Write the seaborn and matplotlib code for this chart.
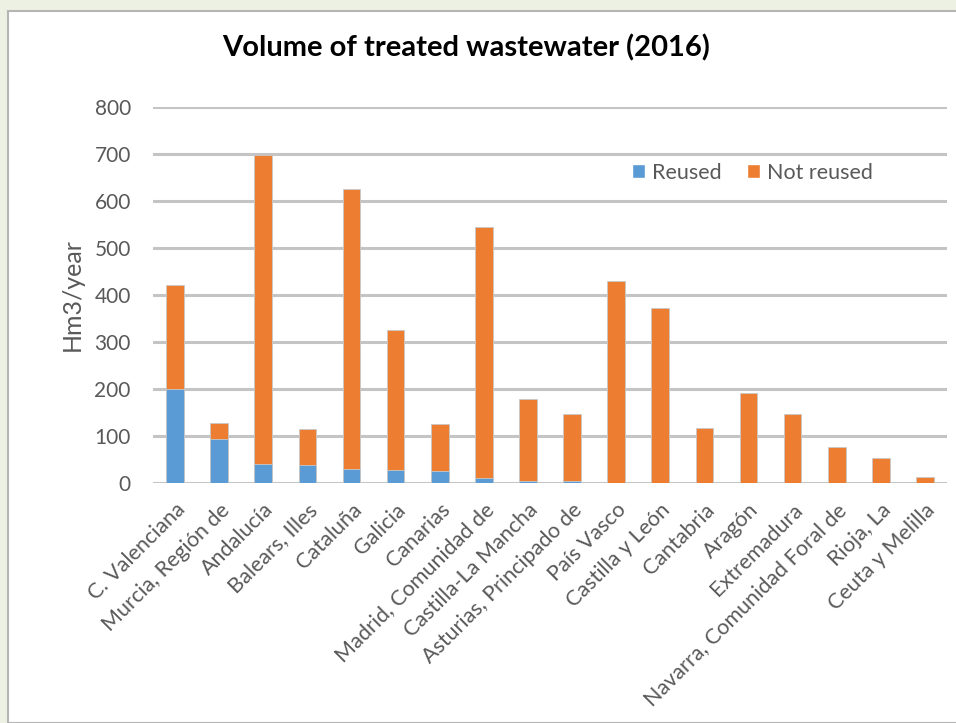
import numpy as np
import pandas as pd
import seaborn as sns
import matplotlib.pyplot as plt
from matplotlib.patches import Rectangle, Patch

#%% data
regions = ['C. Valenciana', 'Murcia, Región de', 'Andalucía', 'Balears, Illes',
           'Cataluña', 'Galicia', 'Canarias', 'Madrid, Comunidad de',
           'Castilla-La Mancha', 'Asturias, Principado de', 'País Vasco',
           'Castilla y León', 'Cantabria', 'Aragón', 'Extremadura',
           'Navarra, Comunidad Foral de', 'Rioja, La', 'Ceuta y Melilla']
reused = [200, 94, 40, 38, 30, 28, 25, 11, 5, 4, 0, 0, 0, 0, 0, 0, 0, 0]
not_reused = [221, 34, 658, 77, 596, 298, 101, 534, 174, 143, 430, 373, 117, 191, 147, 77, 53, 13]

df = pd.DataFrame({'region': regions, 'reused': reused, 'not_reused': not_reused})
df['total'] = df['reused'] + df['not_reused']

blue = '#5B9BD5'
orange = '#ED7D31'
grey_txt = '#595959'

#%% figure
sns.set_style('white')
plt.rcParams['font.family'] = ['Lato', 'DejaVu Sans']

fig = plt.figure(figsize=(9.56, 7.23), dpi=100)
fig.patch.set_facecolor('#edf1e4')
panel = Rectangle((8 / 956, 0), 1.0, 1 - 11 / 723, transform=fig.transFigure,
                  facecolor='white', edgecolor='#b5b5b5', linewidth=1.5, zorder=-10)
fig.add_artist(panel)

ax = fig.add_axes([153 / 956, 1 - 483 / 723, (947 - 153) / 956, (483 - 107) / 723])
ax.set_facecolor('white')

sns.barplot(data=df, x='region', y='total', color=orange, width=0.4, ax=ax,
            edgecolor='#c8c8c8', linewidth=0.6, saturation=1, zorder=3)
sns.barplot(data=df, x='region', y='reused', color=blue, width=0.4, ax=ax,
            edgecolor='#c8c8c8', linewidth=0.6, saturation=1, zorder=4)

ax.set_ylim(0, 800)
ax.set_xlim(-0.5, len(regions) - 0.5)
ax.set_yticks(np.arange(0, 801, 100))
ax.yaxis.grid(True, color='#c4c4c4', linewidth=2.2, zorder=0)
ax.set_axisbelow(True)
for s in ax.spines.values():
    s.set_visible(False)

ax.tick_params(axis='y', length=0, pad=16, labelsize=15, labelcolor=grey_txt)
ax.tick_params(axis='x', length=0, pad=12, labelsize=15.5, labelcolor=grey_txt)
ax.set_xticks(range(len(regions)))
ax.set_xticklabels(regions, rotation=45, ha='right', rotation_mode='anchor')

ax.set_xlabel('')
ax.set_ylabel('Hm3/year', fontsize=18, color=grey_txt, labelpad=8)

handles = [Patch(facecolor=blue, label='Reused'), Patch(facecolor=orange, label='Not reused')]
leg = ax.legend(handles=handles, loc='center', bbox_to_anchor=(0.755, 0.825), ncol=2,
                frameon=False, fontsize=15.5, handlelength=0.6, handleheight=0.6,
                handletextpad=0.3, columnspacing=1.2)
for t in leg.get_texts():
    t.set_color(grey_txt)

fig.text(466 / 956, 1 - 48 / 723, 'Volume of treated wastewater (2016)',
         ha='center', va='center', fontsize=21, fontweight='bold', color='black')

plt.savefig('out.png', dpi=100, facecolor=fig.get_facecolor())
